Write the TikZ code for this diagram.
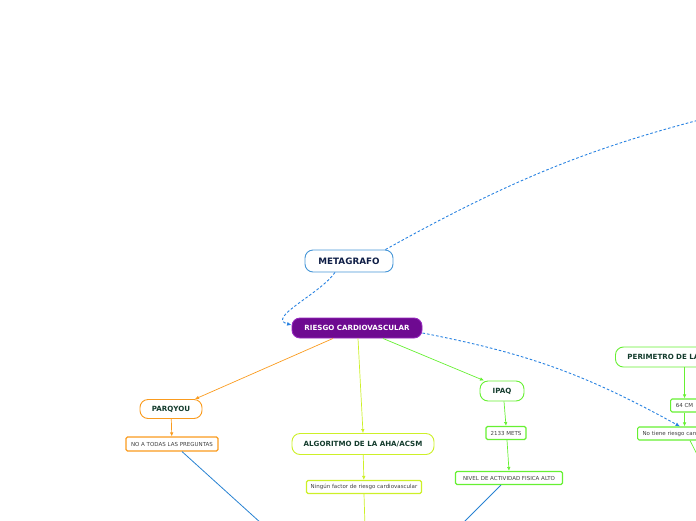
\documentclass[tikz,border=0pt]{standalone}
\usepackage{fontspec}
\setmainfont{DejaVu Sans}
\usetikzlibrary{arrows.meta}
\definecolor{linkblue}{RGB}{40,130,225}
\definecolor{lineblue}{RGB}{40,130,210}
\definecolor{metaborder}{RGB}{70,150,215}
\definecolor{metatext}{RGB}{15,30,70}
\definecolor{riskfill}{RGB}{110,10,145}
\definecolor{riskborder}{RGB}{150,40,190}
\definecolor{parorange}{RGB}{250,155,30}
\definecolor{ahalime}{RGB}{205,240,40}
\definecolor{ipaqgreen}{RGB}{102,240,50}
\definecolor{topictext}{RGB}{20,60,45}

\begin{document}
\begin{tikzpicture}[
  x=1pt, y=-1pt,
  topic/.style = {draw, rounded corners=8pt, fill=white, inner sep=0pt,
                  line width=0.9pt, text=topictext,
                  font=\bfseries\fontsize{7.1}{8}\selectfont},
  leaf/.style  = {draw, rounded corners=1.5pt, fill=white, inner sep=0pt,
                  line width=1.1pt, text=black!75,
                  font=\fontsize{5.5}{6}\selectfont},
  arr/.style   = {-{Latex[length=4pt,width=3.6pt]}, line width=0.7pt},
  rel/.style   = {linkblue, dash pattern=on 2.6pt off 2pt, line width=0.9pt},
  relarr/.style = {rel, -{Latex[length=4.5pt,width=4pt]}},
]
\useasboundingbox (0,0) rectangle (696,520);
\clip (0,0) rectangle (696,520);
% central topics
\node[topic, draw=metaborder, text=metatext, minimum width=88pt, minimum height=22pt,
      font=\bfseries\fontsize{8.8}{10}\selectfont] (meta) at (349,261) {METAGRAFO};
\node[topic, draw=riskborder, fill=riskfill, text=white, minimum width=130pt,
      minimum height=20pt] (riesgo) at (357,328) {RIESGO CARDIOVASCULAR};
% branch: parqyou
\node[topic, draw=parorange, minimum width=62pt, minimum height=19pt] (parq) at (171,409) {PARQYOU};
\node[leaf, draw=parorange, minimum width=92pt, minimum height=14pt] (notodas) at (172,444) {NO A TODAS LAS PREGUNTAS};
% branch: aha/acsm
\node[topic, draw=ahalime, minimum width=142pt, minimum height=21pt] (aha) at (363,444) {ALGORITMO DE LA AHA/ACSM};
\node[leaf, draw=ahalime, minimum width=115pt, minimum height=13pt] (ningun) at (364,487) {Ningún factor de riesgo cardiovascular};
% branch: ipaq
\node[topic, draw=ipaqgreen, minimum width=44pt, minimum height=20pt] (ipaq) at (502,391) {IPAQ};
\node[leaf, draw=ipaqgreen, minimum width=40pt, minimum height=13pt] (mets) at (506,433) {2133 METS};
\node[leaf, draw=ipaqgreen, minimum width=107pt, minimum height=13pt] (nivel) at (509,478) {NIVEL DE ACTIVIDAD FISICA ALTO};
% branch: perimetro (cut at the right edge)
\node[topic, draw=ipaqgreen, anchor=west, minimum height=20pt, inner xsep=12pt,
      text width=140pt, align=left] (perim) at (615,357) {PERIMETRO DE LA CINTURA};
\node[leaf, draw=ipaqgreen, anchor=west, minimum width=28pt, minimum height=13pt] (cm) at (670,405.5) {64 CM};
\node[leaf, draw=ipaqgreen, anchor=west, minimum height=13pt, inner xsep=5pt,
      text width=110pt, align=left] (notiene) at (637,433.5) {No tiene riesgo cardiovascular};
% ends that leave the picture
\coordinate (far)   at (760,105);
\coordinate (low)   at (367,619);
\coordinate (lowb)  at (366,560);
\coordinate (lowg)  at (705,470);
% edges
\draw[arr, parorange] ([xshift=-24pt]riesgo.south) -- ([xshift=24pt]parq.north);
\draw[arr, ahalime] ([xshift=1pt]riesgo.south) -- (aha.north);
\draw[arr, ipaqgreen] ([xshift=26pt]riesgo.south) -- ([xshift=-18pt]ipaq.north);
\draw[arr, parorange] (parq) -- (notodas);
\draw[arr, ahalime] (aha) -- (ningun);
\draw[ahalime, line width=0.7pt] (ningun.south) -- (lowb);
\draw[arr, ipaqgreen] ([xshift=2pt]ipaq.south) -- (mets.north);
\draw[arr, ipaqgreen] ([xshift=1pt]mets.south) -- (nivel.north);
\draw[arr, ipaqgreen] (perim.south -| cm) -- (cm.north);
\draw[arr, ipaqgreen] (cm.south) -- (notiene.north -| cm);
\draw[ipaqgreen, line width=0.7pt] ([xshift=53pt]notiene.south west) -- (lowg);
\draw[lineblue, line width=0.8pt] ([xshift=10pt]notodas.south) -- (low);
\draw[lineblue, line width=0.8pt] ([xshift=-8pt]nivel.south) -- (low);
% relations
\draw[rel] ([xshift=-8pt]meta.north east) to[bend left=8] (far);
\draw[relarr] ([xshift=-14pt]meta.south) to[out=235,in=165] ([yshift=3pt]riesgo.west);
\draw[relarr] ([yshift=-5pt]riesgo.east) to[bend left=9] ([xshift=43pt]notiene.north west);
\end{tikzpicture}
\end{document}
